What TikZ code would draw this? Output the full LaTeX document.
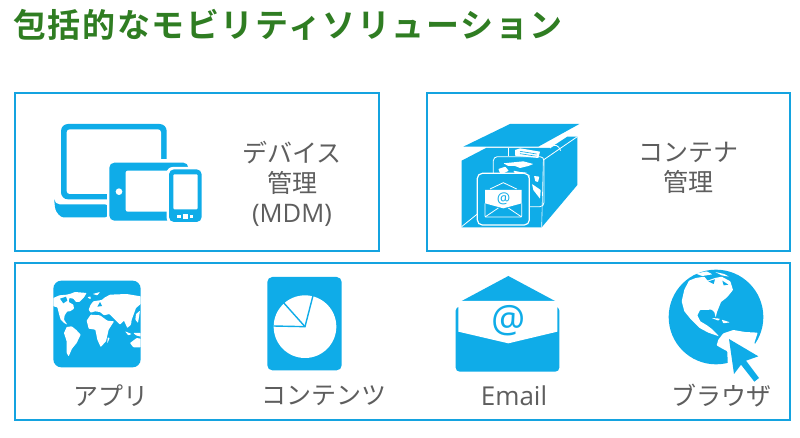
\documentclass[tikz,border=0pt]{standalone}
\usepackage{fontspec}
\setmainfont{Open Sans}
\newfontfamily\jp{Noto Sans CJK JP}
\newfontfamily\jpb[LetterSpace=4.9]{Noto Sans CJK JP Bold}
\definecolor{icon}{HTML}{0FACE8}
\definecolor{frame}{HTML}{14A3E0}
\definecolor{ttl}{HTML}{2F7D22}
\definecolor{lab}{HTML}{5E5E5E}
\tikzset{
 panel/.style={draw=frame,line width=2pt,fill=white},
 lbl/.style={text=lab,font=\jp\fontsize{25}{30}\selectfont,align=center,inner sep=0pt},
 zA/.style={shift={(30,100)},scale=1/3},
 zB/.style={shift={(440,110)},scale=1/3},
 zC/.style={shift={(30,265)},scale=1/3},
 zD/.style={shift={(440,265)},scale=1/3},
 zM/.style={shift={(50,278)},scale=1/3},
 zG/.style={shift={(665,268)},scale=1/3},
 zK/.style={shift={(470,140)},scale=1/3},
 ico/.style={fill=icon,draw=none},
 wht/.style={fill=white,draw=none},
 thin white/.style={draw=white,line width=.8pt},
}
\begin{document}
\begin{tikzpicture}[x=1pt,y=-1pt]
\useasboundingbox (0,0) rectangle (800,438);
\fill[white] (0,0) rectangle (800,438);
\node[anchor=west,inner sep=0pt,text=ttl,font=\jpb\fontsize{33}{38}\selectfont] (title) at (13,25) {包括的なモビリティソリューション};
\draw[panel] (14.5,93.5) rectangle (378.5,251.5);
\draw[panel] (426.5,93.5) rectangle (790,251.5);
\draw[panel] (14.5,263.5) rectangle (790,419.5);
% devices
\begin{scope}[zA]
 \fill[ico,rounded corners=7pt] (93,72) rectangle (410,298);
 \fill[wht,rounded corners=3pt] (110,88) rectangle (393,282);
 \fill[ico,rounded corners=5pt] (73,313) -- (240,313) -- (240,352) -- (115,352) .. controls (90,352) and (78,335) .. (73,313) -- cycle;
 \fill[wht] (232,180) rectangle (420,300);
 \fill[wht] (393,176) rectangle (420,200);
 \fill[wht] (232,298) rectangle (240,370);
 \fill[ico,rounded corners=5pt] (238,188) rectangle (475,362);
 \fill[wht,rounded corners=2pt] (287,212) rectangle (430,335);
 \fill[wht] (267,275) circle (10);
 \fill[wht,rounded corners=6pt] (410,201) rectangle (522,372);
 \fill[ico,rounded corners=5pt] (417,208) rectangle (515,366);
 \fill[wht,rounded corners=1pt] (430,223) rectangle (503,328);
 \fill[wht] (442,344) rectangle (452,354);
 \fill[wht] (458,341) rectangle (473,356);
 \fill[wht] (480,344) rectangle (490,354);
\end{scope}
\node[lbl] (mdm) at (292,184) {デバイス\\[0pt]管理\\[0pt]{\fontspec{Open Sans}\fontsize{25.5}{30}\selectfont (MDM)}};
% container
\begin{scope}[zB]
 \fill[ico] (70,110) -- (210,42) -- (418,42) -- (295,110) -- cycle;
 \fill[ico] (65,152) -- (138,114) -- (330,114) -- (382,80) -- (412,80) -- (412,225) -- (305,352) -- (65,352) -- cycle;
 \draw[thin white] (205,114) -- (205,137);
 \draw[thin white] (330,114) .. controls (345,100) and (355,105) .. (362,122);
 \draw[thin white] (310,150) -- (412,80);
 \draw[white,line width=.6pt] (310,150) -- (305,352);
 \draw[thin white] (65,350) -- (112,312);
\end{scope}
\begin{scope}[zK]
 % document scraps
 \fill[wht] (135,30) -- (150,25) -- (210,35) -- (205,54) -- (135,47) -- cycle;
 \draw[icon,line width=.6pt] (150,34) -- (200,42) (150,41) -- (200,49);
 % map card
 \draw[thin white,rounded corners=4pt] (70,50) rectangle (222,200);
 \fill[wht,rounded corners=.5pt] (100,70) -- (160,64) -- (190,72) -- (175,78) -- (150,84) -- (135,78) -- (115,78) -- cycle;
 \fill[wht,rounded corners=.5pt] (85,87) -- (106,80) -- (116,92) -- (100,100) -- (90,99) -- cycle;
 \fill[wht,rounded corners=.5pt] (130,92) -- (150,96) -- (170,98) -- (180,108) -- (170,116) -- (150,106) -- (137,104) -- cycle;
 \fill[wht,rounded corners=.5pt] (192,108) -- (208,110) -- (204,126) -- (196,124) -- cycle;
 \fill[wht,rounded corners=.5pt] (186,132) -- (212,150) -- (210,176) -- (190,150) -- cycle;
 \fill[ico] (22,100) rectangle (178,255);
 % email card
 \draw[white,line width=1.2pt,rounded corners=5pt] (22,100) rectangle (178,255);
 \draw[thin white] (60,147) -- (100,128) -- (140,147);
 \fill[wht] (45,150) -- (155,150) -- (155,190) -- (100,205) -- (45,190) -- cycle;
 \draw[thin white,rounded corners=1pt] (45,190) -- (45,231) -- (155,231) -- (155,190);
 \draw[thin white] (45,231) -- (85,204) (155,231) -- (115,204);
\end{scope}
\node[inner sep=0pt,text=icon,font=\fontsize{15}{15}\selectfont] (at1) at (503.5,199) {@};
\node[lbl] (cont) at (688,168) {コンテナ\\[0pt]管理};
% world map app
\begin{scope}[zM]
 \fill[ico,rounded corners=8pt] (10,8) rectangle (272,268);
 \begin{scope}[rounded corners=.6pt]
 \fill[wht] (10,60) -- (28,52) -- (50,50) -- (62,47) -- (75,42) -- (110,45) -- (102,58) -- (88,72) -- (78,72) -- (70,62) -- (58,60) -- (56,72) -- (70,80) -- (72,92) -- (60,100) -- (52,100) -- (44,112) -- (42,125) -- (52,140) -- (42,135) -- (32,125) -- (27,108) -- (22,88) -- (10,85) -- cycle;
 \fill[wht] (50,147) -- (65,145) -- (78,155) -- (92,170) -- (80,195) -- (66,212) -- (56,235) -- (50,225) -- (50,190) -- (42,165) -- cycle;
 \fill[wht] (116,95) -- (122,80) -- (130,70) -- (155,66) -- (165,58) -- (180,50) -- (230,48) -- (272,55) -- (272,78) -- (258,90) -- (250,112) -- (245,125) -- (243,140) -- (232,150) -- (222,128) -- (210,140) -- (196,126) -- (178,108) -- (162,112) -- (150,102) -- (135,100) -- (122,104) -- cycle;
 \fill[wht] (110,128) -- (122,110) -- (150,112) -- (172,128) -- (192,130) -- (176,155) -- (168,190) -- (152,207) -- (142,185) -- (136,155) -- (116,152) -- cycle;
 \fill[wht] (240,195) -- (260,180) -- (272,182) -- (272,208) -- (250,208) -- cycle;
 \fill[wht] (173,178) -- (179,180) -- (172,196) -- cycle;
 \fill[wht] (225,160) -- (245,168) -- (235,172) -- cycle;
 \fill[wht] (250,165) -- (272,165) -- (272,176) -- (258,172) -- cycle;
 \fill[wht] (258,108) -- (270,98) -- (264,135) -- (256,125) -- cycle;
 \fill[wht] (112,58) -- (122,55) -- (122,64) -- cycle;
 \fill[wht] (128,48) -- (150,42) -- (142,52) -- cycle;
 \end{scope}
 \fill[ico] (30,62) -- (48,56) -- (52,68) -- (40,76) -- cycle;
 \fill[ico] (142,86) -- (150,72) -- (156,84) -- cycle;
\end{scope}
\begin{scope}[zC]
 % pie
 \fill[icon,rounded corners=5pt] (712,36) rectangle (935,316);
 \fill[wht] (825,185) circle (94);
 \draw[icon,line width=1.4pt] (730,183) -- (825,185) -- (850,88);
 \draw[icon,line width=1.4pt] (825,185) -- (758,110);
\end{scope}
\node[lbl] (app) at (111,396) {アプリ};
\node[lbl] (cnt) at (324,396) {コンテンツ};
% email
\begin{scope}[zD]
 \fill[ico] (205,33) -- (345,108) -- (65,108) -- cycle;
 \fill[ico,rounded corners=4pt] (47,125) -- (47,320) -- (358,320) -- (358,125) -- cycle;
 \fill[wht] (55,108) -- (352,108) -- (352,200) -- (205,235) -- (55,200) -- cycle;
\end{scope}
\node[inner sep=0pt,text=icon,font=\fontsize{38}{38}\selectfont] (at2) at (508.3,321) {@};
% globe
\begin{scope}[zG]
 \fill[ico] (153,147) circle (142);
 \begin{scope}[rounded corners=.6pt]
 \fill[wht] (72,38) -- (58,65) -- (50,100) -- (58,130) -- (76,152) -- (104,180) -- (130,194) -- (162,205) -- (142,184) -- (126,172) -- (106,160) -- (97,142) -- (105,126) -- (140,125) -- (148,132) -- (152,148) -- (156,132) -- (168,102) -- (186,88) -- (204,66) -- (196,40) -- (170,26) -- (150,30) -- (128,38) -- (118,26) -- (92,30) -- cycle;
 \fill[wht] (92,17) -- (125,10) -- (142,19) -- (112,24) -- cycle;
 \fill[wht] (150,12) -- (178,18) -- (192,26) -- (170,22) -- cycle;
 \fill[wht] (140,150) -- (165,152) -- (160,158) -- cycle;
 \fill[wht] (170,155) -- (195,163) -- (175,166) -- cycle;
 \fill[wht] (155,232) -- (160,215) -- (175,196) -- (205,186) -- (240,192) -- (278,194) -- (268,225) -- (300,265) -- (285,345) -- (210,325) -- (188,285) -- (187,250) -- (165,238) -- cycle;
 \end{scope}
 \fill[ico] (130,40) -- (150,34) -- (146,48) -- cycle;
 \fill[ico] (172,38) -- (190,50) -- (176,52) -- cycle;
 \fill[ico] (192,213) -- (280,265) -- (243,278) -- (282,330) -- (268,341) -- (228,290) -- (207,318) -- cycle;
\end{scope}
\node[lbl,font=\fontsize{26}{30}\selectfont] (mail) at (514,396) {Email};
\node[lbl] (brw) at (721,396) {ブラウザ};
\end{tikzpicture}
\end{document}
